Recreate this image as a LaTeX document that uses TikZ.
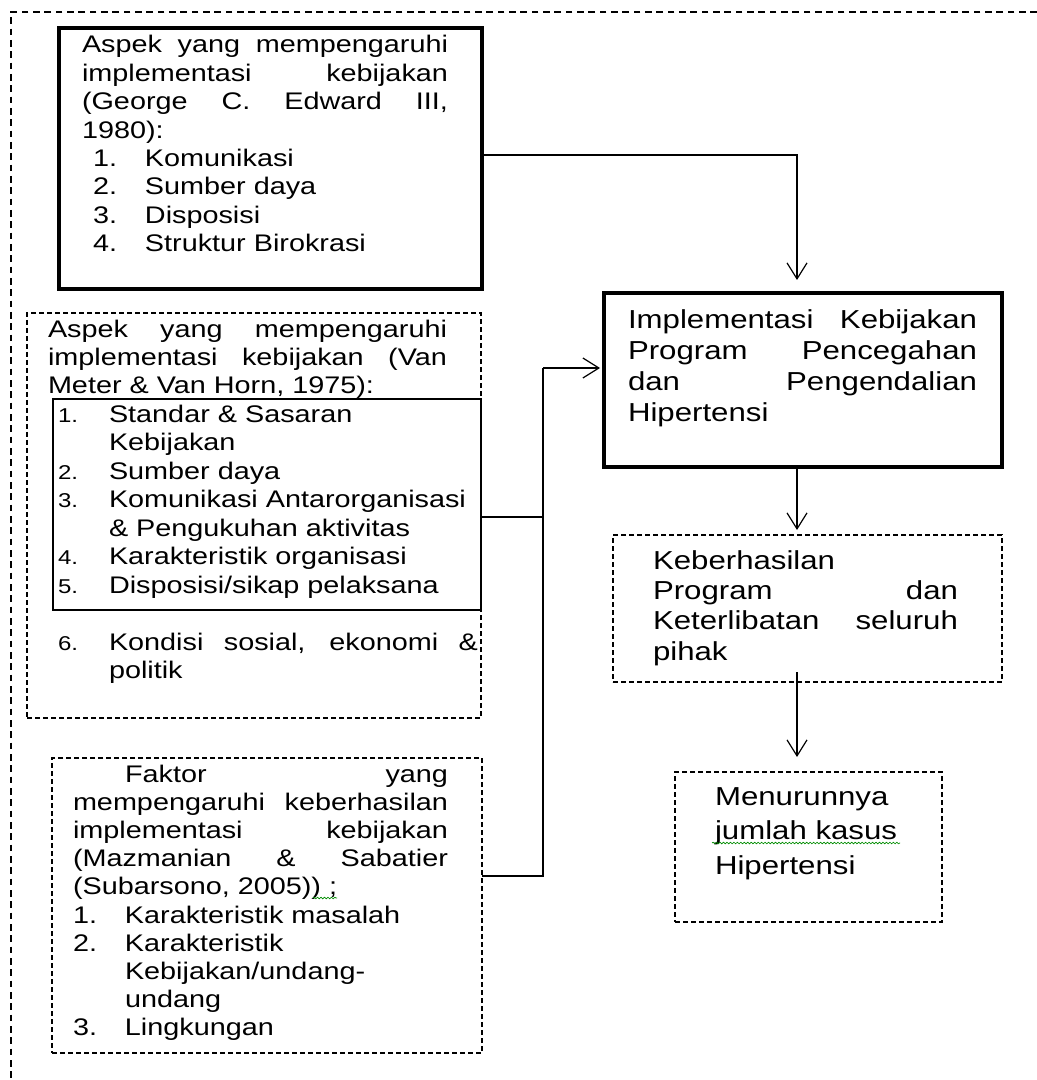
\documentclass[tikz,border=0pt]{standalone}
\usepackage{fontspec}
\setmainfont{Liberation Sans}[FakeStretch=1.2]
\usetikzlibrary{arrows.meta,fit,decorations.pathmorphing}

% a line whose interword spaces stretch to the given width
\newcommand\jrow[2]{\leavevmode\hbox to #1{\spaceskip=0.28em plus 1fil\relax #2}}
% small list number in a fixed-width slot
\newcommand\smnum[1]{\makebox[38.25pt][l]{\fontsize{15pt}{15pt}\selectfont #1}}
\newcommand\bignum[1]{\makebox[39pt][l]{#1}}

\begin{document}
\begin{tikzpicture}[x=0.75pt,y=-0.75pt,
  frame/.style={draw, line width=0.9pt, dash pattern=on 5pt off 3.5pt},
  thickbox/.style={draw, line width=2.6pt, inner sep=0pt, outer sep=0pt},
  thinbox/.style={draw, line width=0.8pt, inner sep=0pt, outer sep=0pt},
  dashbox/.style={draw, line width=0.9pt, dash pattern=on 3.6pt off 2.4pt, inner sep=0pt, outer sep=0pt},
  conn/.style={draw, line width=0.9pt},
  arr/.style={conn, -{Straight Barb[length=12pt,width=15pt]}},
  lefttext/.style={anchor=base west, inner sep=0pt, outer sep=0pt, align=left,
    text width=#1, font=\fontsize{18pt}{21.3pt}\selectfont},
  righttext/.style={anchor=base west, inner sep=0pt, outer sep=0pt, align=left,
    text width=#1, font=\fontsize{19.5pt}{23.25pt}\selectfont},
  squiggle/.style={draw=green!55!black, line width=0.5pt, decorate,
    decoration={snake, amplitude=0.6pt, segment length=2.6pt}},
]
\useasboundingbox (0,0) rectangle (1037,1080);

% outer dashed frame (top and left sides only)
\draw[frame] (1037,12) -- (11,12) -- (11,1080);

% boxes
\node[thickbox, fit={(59,28) (482,289)}] (edw) {};
\node[dashbox, fit={(27,313) (481,718)}] (vm) {};
\node[thinbox, fit={(53,399) (481,610)}] (vminner) {};
\node[dashbox, fit={(52,758) (482,1053)}] (fak) {};
\node[thickbox, fit={(604,293) (1002,467)}] (impl) {};
\node[dashbox, fit={(613,535) (1002,682)}] (kb) {};
\node[dashbox, fit={(675,772) (942,922)}] (mn) {};

% Edward III
\node[lefttext=274.5pt] (edwtxt) at (82,53) {%
\jrow{274.5pt}{Aspek yang mempengaruhi}\\
\jrow{274.5pt}{implementasi kebijakan}\\
\jrow{274.5pt}{(George C. Edward III,}\\
1980):\\
\hspace*{8.25pt}\bignum{1.}Komunikasi\\
\hspace*{8.25pt}\bignum{2.}Sumber daya\\
\hspace*{8.25pt}\bignum{3.}Disposisi\\
\hspace*{8.25pt}\bignum{4.}Struktur Birokrasi};

% Van Meter & Van Horn
\node[lefttext=299.25pt, font=\fontsize{18pt}{21pt}\selectfont] (vmhead) at (48,337) {%
\jrow{299.25pt}{Aspek yang mempengaruhi}\\
\jrow{299.25pt}{implementasi kebijakan (Van}\\
Meter \& Van Horn, 1975):};

\node[lefttext=316.5pt, font=\fontsize{18pt}{21.4pt}\selectfont] (vmitems) at (58,422) {%
\smnum{1.}Standar \& Sasaran\\
\hspace*{38.25pt}Kebijakan\\
\smnum{2.}Sumber daya\\
\smnum{3.}Komunikasi Antarorganisasi\\
\hspace*{38.25pt}\& Pengukuhan aktivitas\\
\smnum{4.}Karakteristik organisasi\\
\smnum{5.}Disposisi/sikap pelaksana};

\node[lefttext=315pt, font=\fontsize{18pt}{21pt}\selectfont] (vmsix) at (58,650) {%
\smnum{6.}\jrow{276.75pt}{Kondisi sosial, ekonomi \&}\\
\hspace*{38.25pt}politik};

% Mazmanian & Sabatier
\node[lefttext=281.25pt, font=\fontsize{18pt}{21.15pt}\selectfont] (faktxt) at (73,782) {%
\hspace*{39pt}\jrow{242.25pt}{Faktor yang}\\
\jrow{281.25pt}{mempengaruhi keberhasilan}\\
\jrow{281.25pt}{implementasi kebijakan}\\
\jrow{281.25pt}{(Mazmanian \& Sabatier}\\
(Subarsono, 2005)) ;\\
\bignum{1.}Karakteristik masalah\\
\bignum{2.}Karakteristik\\
\hspace*{39pt}Kebijakan/undang-\\
\hspace*{39pt}undang\\
\bignum{3.}Lingkungan};

% right column
\node[righttext=261.75pt] (impltxt) at (628,328) {%
\jrow{261.75pt}{Implementasi Kebijakan}\\
\jrow{261.75pt}{Program Pencegahan}\\
\jrow{261.75pt}{dan Pengendalian}\\
Hipertensi};

\node[righttext=228.75pt, font=\fontsize{19.5pt}{22.8pt}\selectfont] (kbtxt) at (653,569) {%
Keberhasilan\\
\jrow{228.75pt}{Program dan}\\
\jrow{228.75pt}{Keterlibatan seluruh}\\
pihak};

\node[righttext=170pt, font=\fontsize{19.5pt}{25.9pt}\selectfont] (mntxt) at (715,805) {%
Menurunnya\\
jumlah kasus\\
Hipertensi};

% spell-check marks
\draw[squiggle] (712,843) -- (900,843);
\draw[squiggle] (313,898) -- (337,898);

% connectors
\coordinate (jn) at (543,368);
\draw[arr] ([yshift=2.6pt]edw.east) -| ([xshift=-4.5pt,yshift=9.75pt]impl.north);
\draw[conn] ([yshift=22.1pt]fak.east) -| (jn);
\draw[conn] ([yshift=-9.4pt]vminner.east) -| (jn);
\draw[arr] (jn) -- ([xshift=-3pt,yshift=9pt]impl.west);
\draw[arr] ([xshift=-4.5pt]impl.south) -- ([xshift=-7.875pt,yshift=3.75pt]kb.north);
\draw[arr] ([xshift=-7.875pt,yshift=7.5pt]kb.south) -- ([xshift=-8.625pt,yshift=11.25pt]mn.north);
\end{tikzpicture}
\end{document}
